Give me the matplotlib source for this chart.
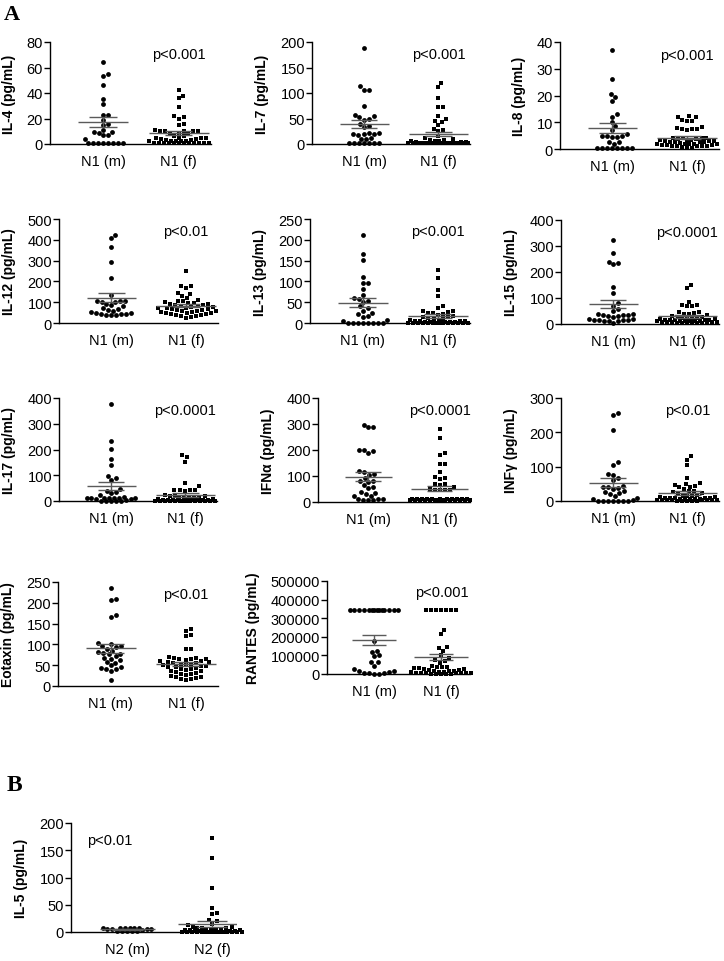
import matplotlib.pyplot as plt
import numpy as np
from matplotlib.ticker import StrMethodFormatter

plt.rcParams["font.family"] = ["Liberation Sans", "DejaVu Sans"]

# ---- values (pg/mL) ----
il4_m = [64, 55, 53, 46, 35, 31, 23, 23, 19, 16, 15, 11, 9.5, 9.5, 9, 7, 7, 4, 1, 1, 1, 1, 1, 1, 1, 1]
il4_f = [42, 38, 36, 29, 22, 21, 20, 16, 15, 11, 10, 10, 10, 10, 10, 9, 9, 8, 6, 6, 5, 5, 5, 5, 4, 4,
         3, 3, 2, 2, 2, 2, 2, 1, 1, 1, 1, 1, 1, 1, 1, 1, 1, 1, 1]

il7_m = [188, 113, 106, 106, 75, 57, 55, 52, 50, 48, 40, 36, 33, 22, 21, 20, 20, 19, 18, 12, 10, 10,
         1, 1, 1, 1, 1, 1, 1]
il7_f = [119, 111, 91, 73, 73, 55, 50, 46, 44, 38, 30, 27, 25, 15, 12, 10, 8, 8, 6, 5, 5, 4, 3, 3,
         2, 2, 2, 2, 1, 1, 1, 1, 1, 1, 1, 1, 1, 1, 1, 1, 1, 1, 1, 1, 1]

il8_m = [37, 26, 20.5, 19.5, 18, 13, 12, 10, 8.5, 7, 5.5, 5, 5, 5, 4.5, 4.5, 2.5, 2.5, 2,
         0.2, 0.2, 0.2, 0.2, 0.2, 0.2, 0.2, 0.2]
il8_f = [12.3, 12, 11.8, 11, 10.6, 10.5, 8.1, 7.8, 7.5, 7.5, 7.5, 7.2, 4.2, 4, 4, 4, 3.8, 3.8, 3.5,
         3.5, 3.2, 3, 3, 3, 2.8, 2.5, 2.5, 2.5, 2.2, 2, 2, 2, 1.8, 1.8, 1.5, 1.5, 1.5, 1.2, 1.2,
         1, 1, 1, 0.8, 0.5, 0.2]

il12_m = [423, 407, 367, 292, 216, 136, 107, 105, 104, 102, 100, 90, 85, 82, 70, 68, 62, 60, 55,
          48, 46, 45, 44, 42, 40, 40, 38]
il12_f = [248, 179, 178, 170, 143, 139, 128, 120, 112, 108, 104, 100, 98, 95, 92, 90, 88, 85, 82,
          80, 78, 76, 74, 72, 70, 68, 66, 64, 62, 60, 58, 56, 55, 52, 50, 48, 46, 45, 42, 40, 38,
          36, 32, 28, 24]

il13_m = [211, 167, 152, 111, 97, 95, 82, 68, 60, 58, 54, 50, 40, 35, 25, 30, 22, 18, 15, 8, 5,
          1, 1, 1, 1, 1, 1, 1, 1]
il13_f = [128, 108, 80, 66, 40, 35, 30, 28, 26, 25, 24, 22, 20, 18, 15, 14, 12, 10, 10, 8, 8, 6,
          5, 5, 4, 3, 3, 2, 2, 2, 1, 1, 1, 1, 1, 1, 1, 1, 1, 1, 1, 1, 1, 1, 1]

il15_m = [322, 275, 239, 233, 230, 141, 121, 79, 70, 58, 50, 40, 38, 36, 35, 34, 32, 30, 28, 20,
          18, 16, 15, 15, 14, 13, 12, 10, 3]
il15_f = [150, 138, 86, 75, 72, 70, 68, 48, 45, 42, 40, 38, 35, 30, 28, 26, 24, 22, 20, 18, 16,
          15, 20, 18, 16, 15, 14, 13, 12, 12, 11, 10, 10, 9, 8, 8, 7, 6, 6, 5, 5, 4, 4, 3, 3]

il17_m = [378, 233, 201, 165, 139, 97, 91, 83, 48, 40, 35, 30, 25, 15, 13, 12, 12, 11, 10, 10, 10,
          9, 8, 2, 1, 1, 1, 1, 1]
il17_f = [177, 171, 152, 71, 57, 44, 43, 42, 41, 40, 25, 22, 20, 18, 15, 14, 12, 10, 10, 8, 8, 6,
          5, 5, 4, 3, 3, 2, 2, 2, 1, 1, 1, 1, 1, 1, 1, 1, 1, 1, 1, 1, 1, 1, 1]

ifna_m = [297, 288, 288, 200, 200, 195, 190, 120, 115, 107, 105, 92, 80, 79, 78, 65, 58, 55, 40,
          36, 30, 25, 23, 10, 10, 10, 9, 8, 8]
ifna_f = [281, 245, 188, 180, 148, 148, 114, 95, 92, 90, 70, 68, 66, 58, 50, 48, 47, 46, 45, 12,
          12, 12, 11, 11, 11, 10, 10, 10, 10, 10, 9, 9, 9, 9, 8, 8, 8, 8, 8, 7, 7, 7, 6, 6, 5]

infg_m = [256, 251, 207, 113, 106, 79, 75, 68, 60, 45, 42, 40, 38, 35, 28, 25, 22, 20, 15, 10, 5,
          3, 1, 1, 1, 1, 1, 1, 1]
infg_f = [130, 120, 104, 68, 52, 50, 48, 45, 42, 40, 35, 30, 28, 25, 22, 20, 18, 16, 15, 14, 12,
          12, 10, 10, 9, 8, 8, 7, 6, 6, 5, 5, 4, 4, 3, 3, 3, 2, 2, 2, 1, 1, 1, 1, 1]

eot_m = [236, 208, 206, 171, 166, 103, 100, 97, 95, 93, 90, 85, 82, 80, 78, 76, 72, 68, 65, 62,
         58, 56, 50, 45, 43, 42, 40, 35, 14]
eot_f = [136, 133, 123, 120, 90, 89, 70, 68, 67, 66, 65, 64, 62, 60, 60, 58, 57, 56, 55, 54, 52,
         50, 50, 48, 47, 46, 45, 44, 42, 40, 38, 36, 35, 33, 32, 30, 28, 26, 24, 22, 21, 20, 18,
         16, 14]

rantes_m = [345000] * 14 + [175000, 125000, 120000, 100000, 95000, 65000, 62000, 45000, 25000,
                            18000, 15000, 10000, 8000, 5000, 3000, 2000, 1000]
rantes_f = [345000] * 7 + [238000, 215000, 145000, 140000, 125000, 100000, 85000, 75000, 70000,
                           60000, 45000, 40000, 38000, 35000, 32000, 30000, 28000, 25000, 22000,
                           20000, 18000, 15000, 14000, 12000, 10000, 9000, 8000, 7000, 6000, 5000,
                           4000, 3000, 3000, 2000, 2000, 1000, 1000, 500]

il5_m = [8, 8, 7, 7, 7, 7, 6, 6, 6, 5, 3, 2, 2, 1, 1, 1]
il5_f = [172, 135, 81, 44, 35, 33, 22, 20, 15, 12, 10, 9, 8, 8, 7, 6, 5, 5, 4, 4, 3, 3, 3, 2, 2,
         2, 2] + [0.5] * 18

groups_n1 = ["N1 (m)", "N1 (f)"]
groups_n2 = ["N2 (m)", "N2 (f)"]

# (y label, male, female, group labels, ymax, ystep, p text, pixel box l, t, r, b)
panels = [
    ("IL-4 (pg/mL)", il4_m, il4_f, groups_n1, 80, 20, "p<0.001", (50, 43, 211, 145)),
    ("IL-7 (pg/mL)", il7_m, il7_f, groups_n1, 200, 50, "p<0.001", (312, 43, 470, 145)),
    ("IL-8 (pg/mL)", il8_m, il8_f, groups_n1, 40, 10, "p<0.001", (560, 43, 719, 150)),
    ("IL-12 (pg/mL)", il12_m, il12_f, groups_n1, 500, 100, "p<0.01", (59, 220, 218, 324)),
    ("IL-13 (pg/mL)", il13_m, il13_f, groups_n1, 250, 50, "p<0.001", (310, 220, 470, 324)),
    ("IL-15 (pg/mL)", il15_m, il15_f, groups_n1, 400, 100, "p<0.0001", (561, 221, 719, 325)),
    ("IL-17 (pg/mL)", il17_m, il17_f, groups_n1, 400, 100, "p<0.0001", (59, 399, 217, 502)),
    ("IFNα (pg/mL)", ifna_m, ifna_f, groups_n1, 400, 100, "p<0.0001", (318, 399, 470, 503)),
    ("INFγ (pg/mL)", infg_m, infg_f, groups_n1, 300, 100, "p<0.01", (561, 399, 719, 502)),
    ("Eotaxin (pg/mL)", eot_m, eot_f, groups_n1, 250, 50, "p<0.01", (58, 583, 218, 687)),
    ("RANTES (pg/mL)", rantes_m, rantes_f, groups_n1, 500000, 100000, "p<0.001", (327, 582, 470, 675)),
    ("IL-5 (pg/mL)", il5_m, il5_f, groups_n2, 200, 50, "p<0.01", (71, 824, 237, 933)),
]

W, H = 724, 962
fig = plt.figure(figsize=(W / 100, H / 100), dpi=100)


def swarm(vals, px_per_y, half_w, d=5.0):
    # simple beeswarm: offsets in pixels, nearest free spot to the centre
    ys = np.asarray(vals, dtype=float) * px_per_y
    xs = np.zeros(len(ys))
    steps = np.arange(0.5, half_w + 0.01, 0.5)
    cand = np.concatenate([[0.0], np.column_stack([steps, -steps]).ravel()])
    placed = []
    for i in np.argsort(ys):
        if placed:
            dist = np.hypot(cand[:, None] - xs[placed][None, :], ys[i] - ys[placed][None, :]).min(axis=1)
            ok = np.where(dist >= d)[0]
            xs[i] = cand[ok[0]] if len(ok) else cand[np.argmax(dist)]
        placed.append(i)
    return xs


for k, (ylab, male, female, glabels, ymax, ystep, ptxt, box) in enumerate(panels):
    l, t, r, b = box
    ax = fig.add_axes([l / W, 1 - b / H, (r - l) / W, (b - t) / H])
    last = k == len(panels) - 1
    xlim = (-0.667, 1.294) if last else (-0.702, 1.426)
    ax.set_xlim(*xlim)
    ax.set_ylim(0, ymax)
    px_x = (r - l) / (xlim[1] - xlim[0])
    px_y = (b - t) / ymax

    for gi, (vals, mk, ms, hw, mw) in enumerate([(male, "o", 12, 24, 0.66), (female, "s", 8.5, 30, 0.8)]):
        v = np.asarray(vals, dtype=float)
        off = swarm(v, px_y, hw) / px_x
        ax.scatter(gi + off, v, s=ms, marker=mk, color="black", linewidths=0, clip_on=False, zorder=2)
        m = v.mean()
        se = v.std(ddof=1) / np.sqrt(len(v))
        ax.hlines(m, gi - mw / 2, gi + mw / 2, color="#5a5a5a", lw=1.0, zorder=3)
        ax.vlines(gi, m - se, m + se, color="#5a5a5a", lw=1.0, zorder=3)
        ax.hlines([m - se, m + se], gi - 0.18, gi + 0.18, color="#5a5a5a", lw=1.0, zorder=3)

    ax.set_xticks([0, 1])
    ax.set_xticklabels(glabels, fontsize=10.5)
    ax.set_yticks(np.arange(0, ymax + 1, ystep))
    ax.yaxis.set_major_formatter(StrMethodFormatter("{x:.0f}"))
    ax.tick_params(axis="x", length=0, pad=7)
    ax.tick_params(axis="y", length=4, width=1.0, pad=1, labelsize=10.5)
    for s in ["top", "right"]:
        ax.spines[s].set_visible(False)
    for s in ["left", "bottom"]:
        ax.spines[s].set_linewidth(1.0)
    ax.set_ylabel(ylab, fontsize=10, fontweight="bold", labelpad=8)

    if last:
        ax.text(0.235, 0.845, ptxt, transform=ax.transAxes, ha="center", va="center", fontsize=10.5)
    else:
        ax.text(1, ymax * 0.88, ptxt, ha="center", va="center", fontsize=10.5)

fig.text(4 / W, 1 - 15 / H, "A", family="Liberation Serif", fontweight="bold", fontsize=16,
         ha="left", va="center")
fig.text(7 / W, 1 - 786 / H, "B", family="Liberation Serif", fontweight="bold", fontsize=17,
         ha="left", va="center")

fig.savefig("out.png", dpi=100, facecolor="white")
